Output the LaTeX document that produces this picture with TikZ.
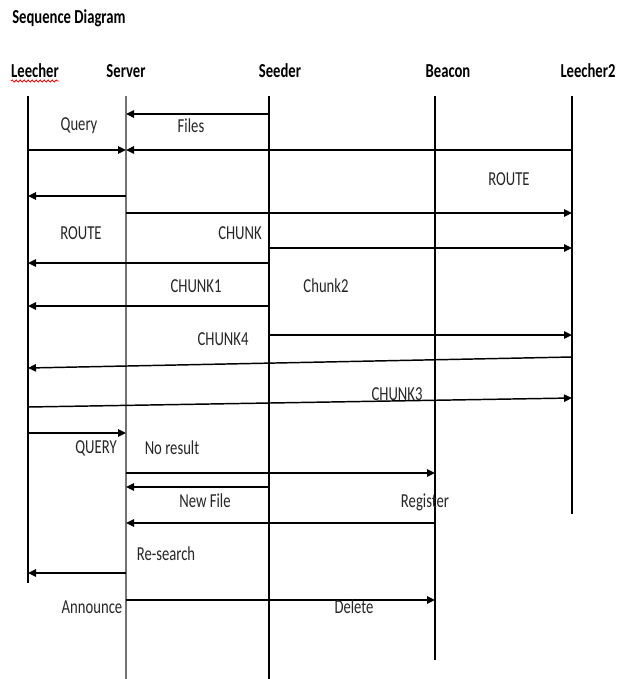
\documentclass[tikz,border=0pt]{standalone}
\usepackage{fontspec}
\setmainfont{Carlito}
\usepackage{tikz}
\usetikzlibrary{arrows.meta,decorations.pathmorphing}

\begin{document}
\begin{tikzpicture}[x=0.75pt, y=-0.75pt, >={Triangle[length=6pt,width=5.5pt]},
  life/.style={draw=black, line width=0.8pt},
  msg/.style={->, line width=1.1pt},
  head/.style={font=\fontsize{11}{13}\selectfont\bfseries, yscale=1.35, inner sep=0pt},
  lbl/.style={font=\fontsize{11}{13}\selectfont, yscale=1.35, inner sep=0pt, text=black!85}]
  \useasboundingbox[fill=white] (0,0) rectangle (617,679);

  \node[head, anchor=west] (title) at (12,18) {Sequence Diagram};

  % actors
  \node[head] (leecher)  at (35,71)  {Leecher};
  \node[head] (server)   at (126,71) {Server};
  \node[head] (seeder)   at (280,71) {Seeder};
  \node[head] (beacon)   at (448,71) {Beacon};
  \node[head] (leecher2) at (588,71) {Leecher2};
  \draw[red, line width=0.6pt, decorate, decoration={snake, amplitude=0.8pt, segment length=3pt}]
    ([yshift=-2pt]leecher.south west) -- ([yshift=-2pt]leecher.south east);

  % lifelines
  \coordinate (L)  at (28,96);
  \coordinate (Sv) at (126,96);
  \coordinate (Sd) at (269,96);
  \coordinate (B)  at (435,96);
  \coordinate (L2) at (572,96);
  \draw[life] (L) -- (L |- 0,583);
  \draw[life, draw=black!55, line width=1.5pt] (Sv) -- (Sv |- 0,679);
  \draw[life] (Sd) -- (Sd |- 0,679);
  \draw[life] (B) -- (B |- 0,660);
  \draw[life] (L2) -- (L2 |- 0,514);

  % messages
  \draw[msg] (Sd |- 0,114) -- (Sv |- 0,114);
  \draw[msg] (L |- 0,150) -- (Sv |- 0,150);
  \draw[msg] (L2 |- 0,150) -- (Sv |- 0,150);
  \draw[msg] (Sv |- 0,196) -- (L |- 0,196);
  \draw[msg] (Sv |- 0,213) -- (L2 |- 0,213);
  \draw[msg] (Sd |- 0,248) -- (L2 |- 0,248);
  \draw[msg] (Sd |- 0,263) -- (L |- 0,263);
  \draw[msg] (Sd |- 0,306) -- (L |- 0,306);
  \draw[msg] (Sd |- 0,335) -- (L2 |- 0,335);
  \draw[msg] (L2 |- 0,357) -- (L |- 0,368);
  \draw[msg] (L |- 0,407) -- (L2 |- 0,398);
  \draw[msg] (L |- 0,433) -- (Sv |- 0,433);
  \draw[msg] (Sv |- 0,473) -- (B |- 0,473);
  \draw[msg] (Sd |- 0,487) -- (Sv |- 0,487);
  \draw[msg] (B |- 0,523) -- (Sv |- 0,523);
  \draw[msg] (Sv |- 0,573) -- (L |- 0,573);
  \draw[msg] (Sv |- 0,600) -- (B |- 0,600);

  % message labels
  \node[lbl] (query)    at (79,126)  {Query};
  \node[lbl] (files)    at (191,126) {Files};
  \node[lbl] (route2)   at (509,179) {ROUTE};
  \node[lbl] (route1)   at (81,233)  {ROUTE};
  \node[lbl] (chunk)    at (240,233) {CHUNK};
  \node[lbl] (chunk1)   at (196,286) {CHUNK1};
  \node[lbl] (chunk2)   at (326,286) {Chunk2};
  \node[lbl] (chunk4)   at (223,339) {CHUNK4};
  \node[lbl] (chunk3)   at (397,394) {CHUNK3};
  \node[lbl] (query2)   at (96,448)  {QUERY};
  \node[lbl] (noresult) at (172,448) {No result};
  \node[lbl] (newfile)  at (205,501) {New File};
  \node[lbl] (register) at (425,502) {Register};
  \node[lbl] (research) at (166,554) {Re-search};
  \node[lbl] (announce) at (92,607)  {Announce};
  \node[lbl] (delete)   at (354,607) {Delete};
\end{tikzpicture}
\end{document}
